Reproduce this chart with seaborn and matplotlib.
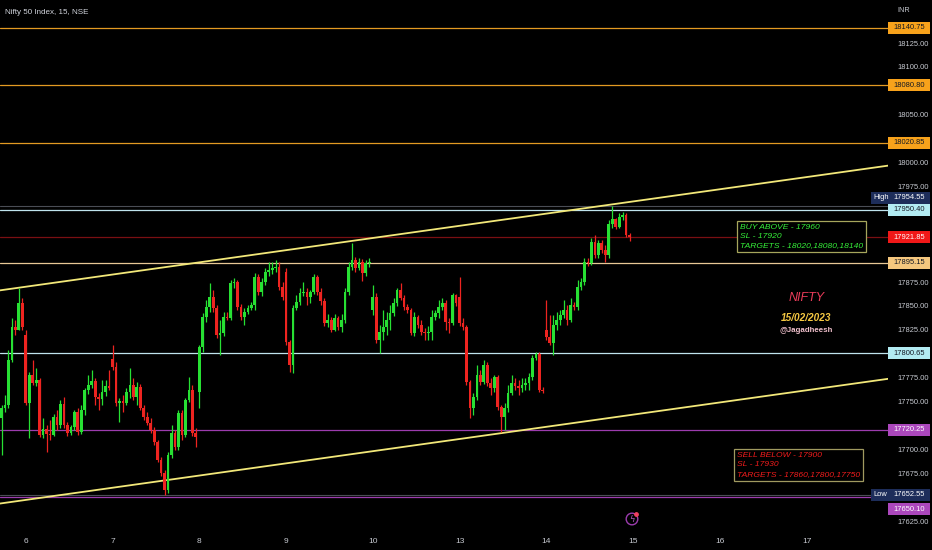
import numpy as np
import pandas as pd
import matplotlib
matplotlib.use("Agg")
import matplotlib.pyplot as plt
import seaborn as sns
from matplotlib.patches import Rectangle
from matplotlib.transforms import blended_transform_factory

# Nifty 50, 15 minute bars: last 7 bars of 3 Feb, then 6-14 Feb 2023
first_open = 17733
bars_first_day = 7
bars_per_day = 25
session_opens = [17820, 17794, 17760, 17885, 17846, 17859, 17825]

closes = [
    17743, 17746, 17793, 17828, 17825, 17853, 17828,
    17748, 17778, 17769, 17773, 17715, 17721, 17716, 17715, 17734, 17725, 17747, 17725, 17717,
    17723, 17739, 17718, 17741, 17762, 17767, 17771, 17755, 17753, 17760, 17766, 17764,
    17786, 17748, 17751, 17748, 17760, 17767, 17755, 17765, 17743, 17734, 17728, 17720, 17708,
    17689, 17675, 17657, 17694, 17717, 17702, 17738, 17715, 17752, 17762, 17717, 17713,
    17807, 17838, 17849, 17859, 17848, 17820, 17822, 17838, 17837, 17874, 17875, 17849, 17838,
    17844, 17848, 17851, 17880, 17865, 17875, 17885, 17888, 17890, 17891, 17870, 17859,
    17812, 17788, 17848, 17854, 17864, 17865, 17859, 17865, 17880, 17865, 17855, 17832, 17835,
    17825, 17837, 17828, 17835, 17865, 17891, 17898, 17890, 17896, 17884, 17895, 17896,
    17859, 17814, 17823, 17828, 17835, 17843, 17853, 17867, 17858, 17849, 17846, 17822, 17838,
    17830, 17823, 17822, 17823, 17838, 17843, 17849, 17853, 17833, 17832, 17861, 17853,
    17832, 17828, 17770, 17743, 17755, 17778, 17770, 17788, 17769, 17764, 17776, 17744, 17734,
    17743, 17759, 17769, 17766, 17764, 17767, 17769, 17776, 17796, 17800, 17762, 17761,
    17817, 17811, 17830, 17835, 17841, 17846, 17835, 17851, 17849, 17870, 17875, 17896, 17895,
    17917, 17903, 17916, 17908, 17903, 17936, 17941, 17933, 17943, 17945, 17924, 17921.85,
]
highs = [
    17746, 17757, 17804, 17837, 17835, 17869, 17858,
    17825, 17781, 17793, 17785, 17775, 17733, 17725, 17731, 17737, 17741, 17752, 17755, 17729,
    17725, 17741, 17743, 17746, 17764, 17778, 17783, 17775, 17759, 17773, 17773, 17783,
    17809, 17791, 17754, 17757, 17764, 17785, 17775, 17770, 17768, 17746, 17739, 17733, 17723,
    17710, 17692, 17678, 17697, 17725, 17720, 17741, 17741, 17754, 17776, 17767, 17722,
    17809, 17843, 17856, 17874, 17867, 17851, 17835, 17844, 17844, 17877, 17879, 17877, 17852,
    17848, 17851, 17854, 17884, 17883, 17879, 17890, 17896, 17896, 17898, 17896, 17875,
    17890, 17814, 17851, 17861, 17869, 17875, 17869, 17867, 17883, 17882, 17869, 17858, 17842,
    17838, 17842, 17839, 17842, 17869, 17896, 17916, 17901, 17900, 17899, 17898, 17900,
    17872, 17864, 17830, 17846, 17844, 17851, 17858, 17869, 17874, 17861, 17852, 17848, 17844,
    17841, 17835, 17827, 17829, 17846, 17846, 17856, 17858, 17856, 17837, 17864, 17862,
    17880, 17837, 17830, 17773, 17759, 17788, 17783, 17793, 17791, 17775, 17778, 17778, 17746,
    17748, 17767, 17778, 17775, 17773, 17775, 17775, 17780, 17799, 17802, 17802, 17765,
    17856, 17841, 17841, 17844, 17846, 17856, 17851, 17858, 17854, 17877, 17879, 17900, 17900,
    17921, 17924, 17919, 17919, 17914, 17940, 17954.55, 17942, 17947, 17948, 17947, 17926,
]
lows = [
    17694, 17739, 17743, 17791, 17820, 17825, 17825,
    17746, 17712, 17767, 17766, 17713, 17712, 17697, 17710, 17714, 17720, 17722, 17722, 17714,
    17715, 17720, 17715, 17716, 17736, 17758, 17764, 17746, 17741, 17746, 17756, 17762,
    17783, 17745, 17729, 17739, 17746, 17754, 17752, 17746, 17741, 17731, 17725, 17717, 17705,
    17687, 17672, 17652.55, 17654, 17691, 17699, 17699, 17710, 17713, 17750, 17714, 17702,
    17743, 17802, 17833, 17844, 17844, 17816, 17799, 17819, 17835, 17835, 17869, 17846, 17835,
    17830, 17842, 17846, 17846, 17861, 17860, 17872, 17881, 17883, 17885, 17867, 17856,
    17809, 17781, 17780, 17846, 17851, 17860, 17851, 17853, 17862, 17861, 17851, 17829, 17828,
    17823, 17824, 17825, 17823, 17832, 17861, 17888, 17885, 17888, 17876, 17881, 17891,
    17841, 17811, 17801, 17814, 17820, 17825, 17839, 17850, 17856, 17846, 17843, 17820, 17819,
    17827, 17820, 17814, 17814, 17814, 17835, 17837, 17846, 17825, 17822, 17830, 17850,
    17829, 17825, 17767, 17733, 17736, 17752, 17767, 17768, 17766, 17757, 17760, 17741, 17718,
    17720, 17739, 17757, 17762, 17757, 17760, 17762, 17762, 17773, 17793, 17760, 17759,
    17814, 17809, 17799, 17825, 17830, 17837, 17830, 17833, 17846, 17846, 17867, 17872, 17892,
    17893, 17900, 17900, 17905, 17896, 17900, 17932, 17930, 17931, 17940, 17922, 17918,
]
day_labels = ["6", "7", "8", "9", "10", "13", "14", "15", "16", "17"]

# horizontal levels drawn on the chart
level_prices = [18140.75, 18080.80, 18020.85, 17950.40, 17921.85, 17895.15, 17800.65, 17720.25, 17650.10]
level_line_colors = ["#e39a22", "#e39a22", "#e39a22", "#bfe4ee", "#7a0f12", "#e8c896", "#bfe4ee", "#9c3cae", "#9c3cae"]
level_box_colors = ["#f7a21b", "#f7a21b", "#f7a21b", "#b2ebf2", "#f01818", "#f5c77e", "#b2ebf2", "#ab47bc", "#ab47bc"]
level_text_colors = ["#131722", "#131722", "#131722", "#131722", "#ffffff", "#131722", "#131722", "#ffffff", "#ffffff"]
label_shift_px = [0, 0, 0, 0, 0, 0, 0, 0, 12]

# channel drawn by hand: (bar, price) anchors
upper_bars = [-1, 256]
upper_prices = [17866, 17997]
lower_bars = [-1, 256]
lower_prices = [17643, 17774]

price_ticks = [18125, 18100, 18050, 18000, 17975, 17875, 17850, 17825,
               17775, 17750, 17700, 17675, 17625]

buy_note = "BUY ABOVE - 17960\nSL - 17920\nTARGETS - 18020,18080,18140"
sell_note = "SELL BELOW - 17900\nSL - 17930\nTARGETS - 17860,17800,17750"

UP = "#27e033"
DOWN = "#ee2420"
AXIS_TXT = "#c7cad1"

n = len(closes)
opens = np.r_[first_open, closes[:-1]].astype(float)
for k, p in enumerate(session_opens):
    opens[bars_first_day + k * bars_per_day] = p

df = pd.DataFrame({"bar": np.arange(n), "open": opens, "high": highs,
                   "low": lows, "close": closes})
df["up"] = df["close"] >= df["open"]
df["bottom"] = df[["open", "close"]].min(axis=1)
df["body"] = (df["close"] - df["open"]).abs().clip(lower=0.9)
df["color"] = np.where(df["up"], UP, DOWN)

sns.set_theme(style="dark")
plt.rcParams["font.family"] = ["Liberation Sans", "DejaVu Sans"]

W, H = 932, 550
fig = plt.figure(figsize=(W / 100, H / 100), dpi=100, facecolor="black")
ax_left, ax_right, ax_top, ax_bot = 0, 888, 0, 528
ax = fig.add_axes([ax_left / W, (H - ax_bot) / H, (ax_right - ax_left) / W, (ax_bot - ax_top) / H])
ax.set_facecolor("black")
for s in ax.spines.values():
    s.set_visible(False)

px_per_bar = 3.47
ax.set_xlim((0 - 1.5) / px_per_bar, (ax_right - 1.5) / px_per_bar)
ax.set_ylim(17617.7, 18170)
pts_per_px = (18170 - 17617.7) / (ax_bot - ax_top)

# horizontal levels
for p, c in zip(level_prices, level_line_colors):
    ax.axhline(p, color=c, linewidth=0.9, zorder=1)
day_high = max(highs)
day_low = min(lows)
ax.axhline(day_high, color="#4a4d55", linewidth=0.8, zorder=1)
ax.axhline(day_low, color="#4a4d55", linewidth=0.8, zorder=1)

# channel lines
trend_df = pd.DataFrame({
    "bar": upper_bars + lower_bars,
    "price": upper_prices + lower_prices,
    "line": ["upper"] * 2 + ["lower"] * 2,
})
sns.lineplot(data=trend_df, x="bar", y="price", hue="line",
             palette=["#f2e879", "#f2e879"], linewidth=1.3, legend=False,
             ax=ax, zorder=3)

# candles
ax.vlines(df["bar"], df["low"], df["high"], colors=df["color"], linewidth=0.9, zorder=4)
ax.bar(df["bar"], df["body"], bottom=df["bottom"], width=0.78,
       color=df["color"], linewidth=0, zorder=5)

# x axis: session starts
tick_pos = [bars_first_day + k * bars_per_day for k in range(len(day_labels))]
ax.set_xticks(tick_pos)
ax.set_xticklabels(day_labels)
ax.tick_params(axis="x", length=0, pad=7, labelsize=6, colors=AXIS_TXT)
ax.set_xlabel("")
ax.set_ylabel("")

# y axis on the right
ax.yaxis.tick_right()
ax.set_yticks(price_ticks)
ax.set_yticklabels([f"{t:.2f}" for t in price_ticks])
ax.tick_params(axis="y", length=0, pad=7, labelsize=5.4, colors=AXIS_TXT)
ax.grid(False)

trans = blended_transform_factory(fig.transFigure, ax.transData)
box_h = 12 * pts_per_px
bx0, bx1 = 888 / W, 930 / W
for p, fc, tc, sh in zip(level_prices, level_box_colors, level_text_colors, label_shift_px):
    yc = p - sh * pts_per_px
    ax.add_patch(Rectangle((bx0, yc - box_h / 2), bx1 - bx0, box_h, transform=trans,
                           facecolor=fc, edgecolor="none", clip_on=False, zorder=8))
    ax.text((bx0 + bx1) / 2, yc, f"{p:.2f}", transform=trans, ha="center", va="center",
            fontsize=5.4, color=tc, zorder=9, clip_on=False)

# High / Low tags
for name, p, sh in [("High", day_high, -8), ("Low", day_low, 0)]:
    yc = p - sh * pts_per_px
    hx0 = 871 / W
    ax.add_patch(Rectangle((hx0, yc - box_h / 2), bx1 - hx0, box_h, transform=trans,
                           facecolor="#1d2d5a", edgecolor="none", clip_on=False, zorder=8))
    ax.text(873.5 / W, yc, name, transform=trans, ha="left", va="center",
            fontsize=5.4, color="#ffffff", zorder=9, clip_on=False)
    ax.text((bx0 + bx1) / 2, yc, f"{p:.2f}", transform=trans, ha="center", va="center",
            fontsize=5.4, color="#ffffff", zorder=9, clip_on=False)

# trade notes
ax.text(212.8, 17936, buy_note, ha="left", va="top", fontsize=6.1, style="italic",
        color="#36f03a", linespacing=1.45, zorder=7,
        bbox=dict(boxstyle="square,pad=0.35", facecolor="black", edgecolor="#a6a65c", linewidth=0.9))
ax.text(212.0, 17697, sell_note, ha="left", va="top", fontsize=6.1, style="italic",
        color="#f01c1c", linespacing=1.45, zorder=7,
        bbox=dict(boxstyle="square,pad=0.35", facecolor="black", edgecolor="#a09a60", linewidth=0.9))

ax.text(231.9, 17858, "NIFTY", ha="center", va="center", fontsize=9, style="italic",
        color="#eb3c5a", zorder=7)
ax.text(231.9, 17837, "15/02/2023", ha="center", va="center", fontsize=7.2, style="italic",
        fontweight="bold", color="#f5c842", zorder=7)
ax.text(231.9, 17824, "@Jagadheesh", ha="center", va="center", fontsize=5.7,
        fontweight="bold", color="#f0c0cc", zorder=7)

# events marker near the time scale
ax.scatter([632 / 888], [9 / 528], s=70, facecolors="none", edgecolors="#9c3cae",
           linewidths=1.0, transform=ax.transAxes, zorder=7, clip_on=False)
ax.scatter([636 / 888], [14 / 528], s=6, color="#f04060", transform=ax.transAxes,
           zorder=8, clip_on=False)
ax.text(632 / 888, 9 / 528, "ϟ", transform=ax.transAxes, ha="center", va="center",
        fontsize=6, color="#b05cc0", family=["DejaVu Sans"], zorder=8)

fig.text(5 / W, 1 - 12 / H, "Nifty 50 Index, 15, NSE", ha="left", va="center",
         fontsize=5.8, color="#d1d4dc")
fig.text(897 / W, 1 - 10 / H, "INR", ha="left", va="center", fontsize=5.2, color=AXIS_TXT)

fig.savefig("out.png", dpi=100, facecolor="black")
